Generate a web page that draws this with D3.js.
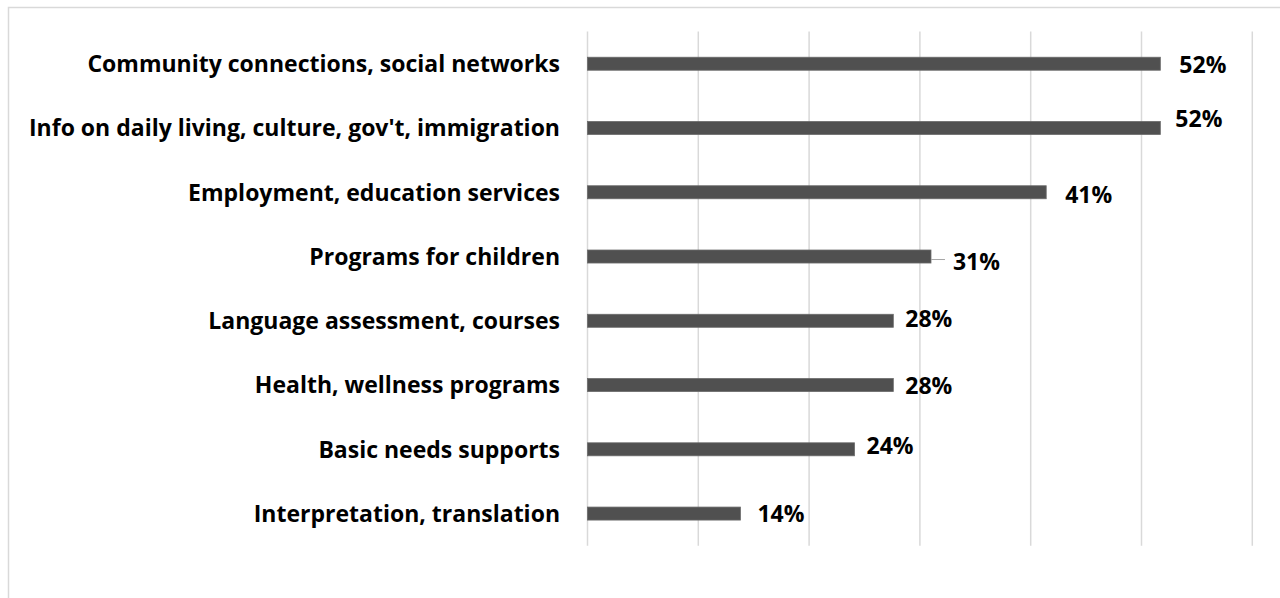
<!DOCTYPE html>
<html lang="en">
<head>
<meta charset="UTF-8">
<script src="https://cdnjs.cloudflare.com/ajax/libs/d3/7.8.5/d3.min.js"></script>
<style>
    body { margin: 0; background: #fff; }
    text { font-family: "Open Sans", Lato, sans-serif; font-weight: bold; fill: #000; }
</style>
</head>
<body>
<div id="chart"></div>
<script>
    // categories, top to bottom
    var categories = [
        "Community connections, social networks",
        "Info on daily living, culture, gov't, immigration",
        "Employment, education services",
        "Programs for children",
        "Language assessment, courses",
        "Health, wellness programs",
        "Basic needs supports",
        "Interpretation, translation"
    ];
    // percent values
    var values = [51.7, 51.7, 41.4, 31.0, 27.6, 27.6, 24.1, 13.8];
    var valueLabels = ["52%", "52%", "41%", "31%", "28%", "28%", "24%", "14%"];
    var ticks = [0, 10, 20, 30, 40, 50, 60];

    // hand-moved data labels in the original (dx from bar end, dy from bar centre)
    var labelDx = [19, 15, 19, 22, 12, 12, 12, 17];
    var labelDy = [1, -9, 2, 5, -2, 1, -4, 0.5];

    var W = 1280, H = 598;
    var svg = d3.select("#chart").append("svg")
        .attr("width", W)
        .attr("height", H);

    svg.append("rect")
        .attr("x", 8.5).attr("y", 7.5)
        .attr("width", 1400).attr("height", 800)
        .attr("fill", "#fff")
        .attr("stroke", "#d9d9d9")
        .attr("stroke-width", 1.5);

    var x = d3.scaleLinear().domain([0, 60]).range([587.5, 1252.3]);
    var y = d3.scaleBand().domain(categories).range([31.6, 545.7]).padding(0);
    var barH = 13;

    // gridlines
    svg.selectAll("line.grid")
        .data(ticks)
        .enter()
        .append("line")
        .attr("class", "grid")
        .attr("x1", function (d) { return x(d); })
        .attr("x2", function (d) { return x(d); })
        .attr("y1", y.range()[0])
        .attr("y2", y.range()[1])
        .attr("stroke", "#d9d9d9")
        .attr("stroke-width", 1.5);

    // bars
    svg.selectAll("rect.bar")
        .data(values)
        .enter()
        .append("rect")
        .attr("class", "bar")
        .attr("x", x(0))
        .attr("y", function (d, i) { return y(categories[i]) + y.bandwidth() / 2 - barH / 2; })
        .attr("width", function (d) { return x(d) - x(0); })
        .attr("height", barH)
        .attr("fill", "#505050")
        .attr("stroke", "#6a6a6a")
        .attr("stroke-width", 0.8);

    // category labels
    svg.selectAll("text.cat")
        .data(categories)
        .enter()
        .append("text")
        .attr("class", "cat")
        .attr("x", 560)
        .attr("y", function (d) { return y(d) + y.bandwidth() / 2; })
        .attr("dy", "0.36em")
        .attr("text-anchor", "end")
        .style("font-size", "23px")
        .text(function (d) { return d; });

    // leader line for the 31% label
    var li = 3;
    svg.append("line")
        .attr("x1", x(values[li]))
        .attr("x2", x(values[li]) + labelDx[li] - 8)
        .attr("y1", y(categories[li]) + y.bandwidth() / 2 + 3)
        .attr("y2", y(categories[li]) + y.bandwidth() / 2 + 3)
        .attr("stroke", "#a6a6a6")
        .attr("stroke-width", 1);

    // value labels
    svg.selectAll("text.val")
        .data(values)
        .enter()
        .append("text")
        .attr("class", "val")
        .attr("x", function (d, i) { return x(d) + labelDx[i]; })
        .attr("y", function (d, i) { return y(categories[i]) + y.bandwidth() / 2 + labelDy[i]; })
        .attr("dy", "0.36em")
        .style("font-size", "23px")
        .text(function (d, i) { return valueLabels[i]; });
</script>
</body>
</html>
